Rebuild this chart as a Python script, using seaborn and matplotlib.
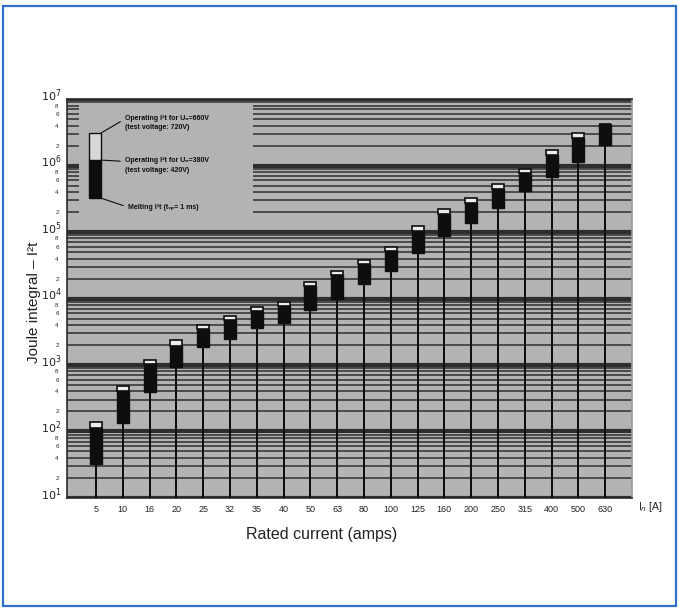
import matplotlib

matplotlib.use("Agg")

import numpy as np
import pandas as pd
import matplotlib.pyplot as plt
import matplotlib.ticker as mticker
import matplotlib.transforms as mtransforms
from matplotlib.patches import Rectangle
import seaborn as sns


# rated currents (x categories)
CURRENTS = ["5", "10", "16", "20", "25", "32", "35", "40", "50", "63",
            "80", "100", "125", "160", "200", "250", "315", "400", "500", "630"]

# I2t values
MELTING = [32.5, 136, 396, 923, 1850, 2500, 3640, 4240, 6650, 9820,
           16700, 25600, 48800, 88000, 135000, 227000, 409000, 679000,
           1120000, 2030000]
OPERATING_LOW = [112, 406, 1026, 1950, 3450, 4750, 6480, 7710, 15400, 22300,
                 32700, 52300, 104700, 186500, 276000, 448000, 780000,
                 1440000, 2620000, 4280000]
OPERATING_HIGH = [137, 479, 1200, 2350, 4000, 5510, 7530, 8950, 17900, 25900,
                  37900, 60100, 123000, 219000, 321000, 532000, 895000,
                  1690000, 3080000, 4280000]

# y ticks
MAJOR_TICKS = [1e1, 1e2, 1e3, 1e4, 1e5, 1e6, 1e7]
MAJOR_LABELS = ["$10^{1}$", "$10^{2}$", "$10^{3}$", "$10^{4}$",
                "$10^{5}$", "$10^{6}$", "$10^{7}$"]
MINOR_SUBS = [2, 3, 4, 5, 6, 7, 8, 9]
MINOR_LABELED = [2, 4, 6, 8]

# legend sample bar
LEGEND_MELT = 3.24e5
LEGEND_OP_LOW = 1.21e6
LEGEND_OP_HIGH = 3.08e6
LEGEND_TEXTS = [
    "Operating I²t for Uₙ=660V\n(test voltage: 720V)",
    "Operating I²t for Uₙ=380V\n(test voltage: 420V)",
    "Melting I²t (tᵥₚ= 1 ms)",
]

BG = "#b3b3b3"
INK = "#0e0e0e"
GRID = "#2e2e2e"
TEXT = "#222222"


def main() -> None:
    sns.set_theme(style="white")
    plt.rcParams["font.family"] = ["Liberation Sans", "DejaVu Sans"]
    plt.rcParams["mathtext.fontset"] = "dejavusans"

    fig = plt.figure(figsize=(6.79, 6.08), dpi=100)
    fig.patch.set_facecolor("white")
    ax = fig.add_axes([0.0987, 0.181, 0.832, 0.656])
    ax.set_facecolor(BG)

    df = pd.DataFrame({"current": CURRENTS, "melting": MELTING})

    # stems: thin bars from the bottom up to the melting value
    sns.barplot(data=df, x="current", y="melting", order=CURRENTS,
                color=INK, width=0.075, linewidth=0, ax=ax, zorder=3)

    ax.set_yscale("log")
    pos = np.arange(len(CURRENTS))
    melt = np.array(MELTING)
    low = np.array(OPERATING_LOW)
    high = np.array(OPERATING_HIGH)

    ax.bar(pos, low - melt, bottom=melt, width=0.45, color=INK,
           edgecolor=INK, linewidth=1.0, zorder=4)
    ax.bar(pos, high - low, bottom=low, width=0.45, color="#ececec",
           edgecolor=INK, linewidth=1.2, zorder=4)

    ax.set_xlim(-1.08, 20.0)
    ax.set_ylim(1e1, 1e7)

    # log grid drawn as plain horizontal lines under the bars
    for major in MAJOR_TICKS:
        ax.axhline(major, color=GRID, linewidth=3.0, zorder=0.6)
        if major < MAJOR_TICKS[-1]:
            for sub in MINOR_SUBS:
                ax.axhline(major * sub, color=GRID, linewidth=1.1, zorder=0.6)

    # major labels as texts, nudged up so they clear the small "8"
    ax.yaxis.set_major_locator(mticker.FixedLocator(MAJOR_TICKS))
    ax.yaxis.set_major_formatter(mticker.NullFormatter())
    lift = mtransforms.ScaledTranslation(-4 / 72, 2.5 / 72, fig.dpi_scale_trans)
    for value, label in zip(MAJOR_TICKS, MAJOR_LABELS):
        ax.text(0, value, label, transform=ax.get_yaxis_transform() + lift,
                ha="right", va="center", fontsize=8, color=TEXT)

    ax.yaxis.set_minor_locator(mticker.LogLocator(base=10, subs=MINOR_SUBS))

    def minor_fmt(v, _):
        lead = int(round(v / 10 ** np.floor(np.log10(v) + 1e-9)))
        return str(lead) if lead in MINOR_LABELED else ""

    ax.yaxis.set_minor_formatter(mticker.FuncFormatter(minor_fmt))
    ax.grid(False)

    ax.tick_params(axis="y", which="major", length=0)
    ax.tick_params(axis="y", which="minor", length=0, pad=6, labelsize=4.5,
                   colors=TEXT)
    ax.tick_params(axis="x", length=0, pad=5, labelsize=6.5, colors=TEXT)

    for side in ["left", "bottom", "top"]:
        ax.spines[side].set_color("#2a2a2a")
        ax.spines[side].set_linewidth(1.2)
    ax.spines["right"].set_color("#9a9a9a")

    # plain box behind the legend sample
    ax.add_patch(Rectangle((-0.63, 1.3e5), 6.48, 8.6e6 - 1.3e5,
                           facecolor=BG, edgecolor="none", zorder=1))

    lx = -0.04
    ax.bar([lx], [LEGEND_OP_LOW - LEGEND_MELT], bottom=[LEGEND_MELT],
           width=0.45, color=INK, edgecolor=INK, linewidth=1.0, zorder=4)
    ax.bar([lx], [LEGEND_OP_HIGH - LEGEND_OP_LOW], bottom=[LEGEND_OP_LOW],
           width=0.45, color="#d8d8d8", edgecolor=INK, linewidth=1.0, zorder=4)

    edge = lx + 0.225
    anchors = [LEGEND_OP_HIGH, LEGEND_OP_LOW, LEGEND_MELT]
    offsets = [(24, 10), (24, -5.5), (27, -9)]
    relpos = [(0, 0.75), (0, 0.75), (0, 0.5)]
    for text, y, off, rp in zip(LEGEND_TEXTS, anchors, offsets, relpos):
        ax.annotate(text, xy=(edge, y), xytext=off, textcoords="offset pixels",
                    ha="left", va="center", fontsize=5, fontweight="bold",
                    linespacing=1.5, color=INK, zorder=5,
                    arrowprops=dict(arrowstyle="-", color=INK, lw=0.8,
                                    shrinkA=1, shrinkB=0, relpos=rp))

    ax.set_xlabel("Rated current (amps)", fontsize=11.5, color=TEXT)
    ax.xaxis.set_label_coords(0.451, -0.073)
    ax.set_ylabel("Joule integral – I²t", fontsize=11, color=TEXT)
    ax.yaxis.set_label_coords(-0.046, 0.49)

    ax.annotate("I$_n$ [A]", xy=(1.033, -0.022), xycoords="axes fraction",
                ha="center", va="center", fontsize=7.5, color=TEXT)

    # blue frame around the whole picture
    fig.patches.append(Rectangle((0.005, 0.004), 0.99, 0.986,
                                 transform=fig.transFigure, fill=False,
                                 edgecolor="#2f6fd0", linewidth=1.6))

    fig.savefig("out.png", dpi=100)
    plt.close(fig)


if __name__ == "__main__":
    main()
